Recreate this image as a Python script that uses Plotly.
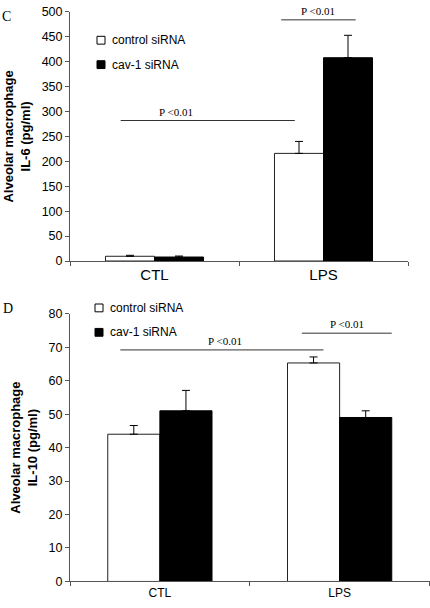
import plotly.graph_objects as go

# ---------------- data ----------------
categories = ["CTL", "LPS"]
series_names = ["control siRNA", "cav-1 siRNA"]

il6_control = [9.5, 216]
il6_control_err = [2, 24]
il6_cav1 = [8, 408]
il6_cav1_err = [2, 45]

il10_control = [44, 65.3]
il10_control_err = [2.6, 1.8]
il10_cav1 = [51, 49]
il10_cav1_err = [6.1, 2]

il6_ticks = [0, 50, 100, 150, 200, 250, 300, 350, 400, 450, 500]
il10_ticks = [0, 10, 20, 30, 40, 50, 60, 70, 80]

sig_label = "P <0.01"
# (x0, x1, y, text x) in category / data units
il6_brackets = [(-0.20, 0.83, 282, 0.13), (0.75, 1.19, 484, 0.97)]
il10_brackets = [(-0.22, 0.91, 69.2, 0.36), (0.79, 1.29, 74.2, 1.04)]

W, H = 430, 608
SANS = "Liberation Sans, Arial, sans-serif"
SERIF = "Liberation Serif, Times New Roman, serif"


def px(x):
    return x / W


def py(y):
    return 1 - y / H


fig = go.Figure()

panels = [
    ("x", "y", il6_control, il6_control_err, il6_cav1, il6_cav1_err),
    ("x2", "y2", il10_control, il10_control_err, il10_cav1, il10_cav1_err),
]
for xa, ya, c, ce, k, ke in panels:
    fig.add_trace(go.Bar(
        x=categories, y=c, name=series_names[0], xaxis=xa, yaxis=ya,
        marker=dict(color="white", line=dict(color="#222", width=1)),
        error_y=dict(type="data", array=ce, arrayminus=[0] * len(ce),
                     color="black", thickness=1, width=4),
        showlegend=False,
    ))
    fig.add_trace(go.Bar(
        x=categories, y=k, name=series_names[1], xaxis=xa, yaxis=ya,
        marker=dict(color="black", line=dict(color="black", width=1)),
        error_y=dict(type="data", array=ke, arrayminus=[0] * len(ke),
                     color="black", thickness=1, width=4),
        showlegend=False,
    ))

shapes = []
annotations = []

# significance brackets
for (xr, yr, brackets) in [("x", "y", il6_brackets), ("x2", "y2", il10_brackets)]:
    for x0, x1, yv, tx in brackets:
        shapes.append(dict(type="line", xref=xr, yref=yr, x0=x0, x1=x1, y0=yv, y1=yv,
                           line=dict(color="#333", width=1)))
        annotations.append(dict(xref=xr, yref=yr, x=tx, y=yv, text=sig_label,
                                showarrow=False, yanchor="bottom", xanchor="center",
                                yshift=1, font=dict(family=SERIF, size=11, color="black")))

# manual legends
legend_rows = [
    (97, 34, 59),
    (95, 308, 333),
]
for sx, c1, c2 in legend_rows:
    for i, (cy, fill) in enumerate([(c1, "white"), (c2, "black")]):
        shapes.append(dict(type="rect", xref="paper", yref="paper",
                           x0=px(sx), x1=px(sx + 8), y0=py(cy - 4), y1=py(cy + 4),
                           fillcolor=fill, line=dict(color="black", width=1)))
        annotations.append(dict(xref="paper", yref="paper", x=px(sx + 13), y=py(cy),
                                text=series_names[i], showarrow=False, xanchor="left",
                                yanchor="middle", font=dict(family=SANS, size=12, color="black")))

# panel letters
annotations.append(dict(xref="paper", yref="paper", x=px(0), y=py(0), text="C",
                        showarrow=False, xanchor="left", yanchor="top",
                        font=dict(family=SERIF, size=14, color="black")))
annotations.append(dict(xref="paper", yref="paper", x=px(1), y=py(299), text="D",
                        showarrow=False, xanchor="left", yanchor="top",
                        font=dict(family=SERIF, size=14, color="black")))

axis_common = dict(showgrid=False, zeroline=False, showline=True, linecolor="#555",
                   linewidth=1, ticks="outside", tickcolor="#555", ticklen=4)

fig.update_layout(
    width=W, height=H,
    margin=dict(l=0, r=0, t=0, b=0),
    paper_bgcolor="white", plot_bgcolor="white",
    barmode="group", bargap=0.42, bargroupgap=0,
    font=dict(family=SANS, color="black"),
    xaxis=dict(domain=[px(70), px(408)], anchor="y", tickson="boundaries",
               tickfont=dict(size=15), **axis_common),
    yaxis=dict(domain=[py(260), py(5)], anchor="x", range=[0, 500],
               tickvals=il6_ticks, tickfont=dict(size=12.5),
               title=dict(text="Alveolar macrophage<br>IL-6 (pg/ml)", standoff=8,
                          font=dict(size=13, weight="bold")),
               **axis_common),
    xaxis2=dict(domain=[px(70), px(429.5)], anchor="y2", tickson="boundaries",
                tickfont=dict(size=12), **axis_common),
    yaxis2=dict(domain=[py(588), py(314)], anchor="x2", range=[0, 80],
                tickvals=il10_ticks, tickfont=dict(size=12.5),
                title=dict(text="Alveolar macrophage<br>IL-10 (pg/ml)", standoff=8,
                           font=dict(size=13, weight="bold")),
                **axis_common),
    shapes=shapes,
    annotations=annotations,
)

fig.write_html("out.html", config={"displayModeBar": False},
               post_script="document.body.style.margin='0';document.body.style.overflow='hidden';")
